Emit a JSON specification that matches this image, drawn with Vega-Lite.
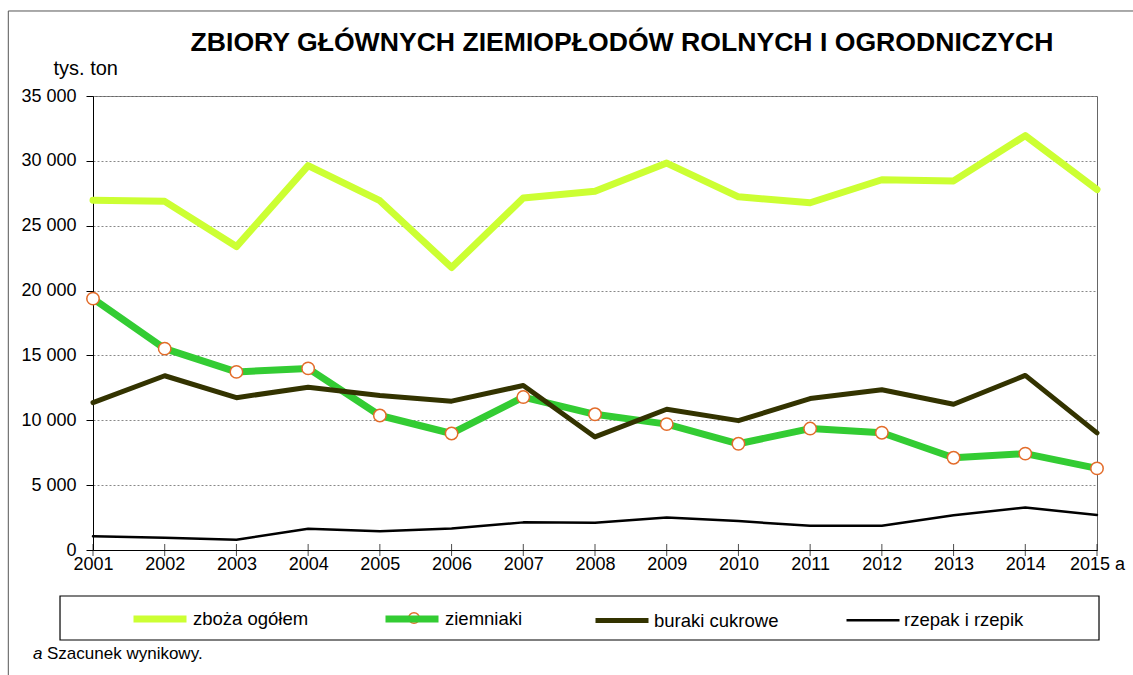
{
  "$schema": "https://vega.github.io/schema/vega-lite/v6.json",
  "autosize": "none",
  "width": 1004,
  "height": 454,
  "padding": {"left": 93, "top": 96, "right": 36, "bottom": 125},
  "background": "white",
  "title": {
    "text": "ZBIORY GŁÓWNYCH ZIEMIOPŁODÓW ROLNYCH I OGRODNICZYCH",
    "font": "Liberation Sans",
    "fontSize": 26.6,
    "fontWeight": "bold",
    "color": "black",
    "anchor": "middle",
    "frame": "group",
    "baseline": "alphabetic",
    "offset": 4,
    "dx": 27,
    "dy": 71
  },
  "data": {
    "values": [
      {"rok": 2001, "seria": "zboża ogółem", "wartosc": 26960},
      {"rok": 2002, "seria": "zboża ogółem", "wartosc": 26877},
      {"rok": 2003, "seria": "zboża ogółem", "wartosc": 23391},
      {"rok": 2004, "seria": "zboża ogółem", "wartosc": 29635},
      {"rok": 2005, "seria": "zboża ogółem", "wartosc": 26928},
      {"rok": 2006, "seria": "zboża ogółem", "wartosc": 21776},
      {"rok": 2007, "seria": "zboża ogółem", "wartosc": 27143},
      {"rok": 2008, "seria": "zboża ogółem", "wartosc": 27664},
      {"rok": 2009, "seria": "zboża ogółem", "wartosc": 29827},
      {"rok": 2010, "seria": "zboża ogółem", "wartosc": 27228},
      {"rok": 2011, "seria": "zboża ogółem", "wartosc": 26768},
      {"rok": 2012, "seria": "zboża ogółem", "wartosc": 28543},
      {"rok": 2013, "seria": "zboża ogółem", "wartosc": 28455},
      {"rok": 2014, "seria": "zboża ogółem", "wartosc": 31945},
      {"rok": 2015, "seria": "zboża ogółem", "wartosc": 27790},
      {"rok": 2001, "seria": "ziemniaki", "wartosc": 19379},
      {"rok": 2002, "seria": "ziemniaki", "wartosc": 15524},
      {"rok": 2003, "seria": "ziemniaki", "wartosc": 13731},
      {"rok": 2004, "seria": "ziemniaki", "wartosc": 13999},
      {"rok": 2005, "seria": "ziemniaki", "wartosc": 10369},
      {"rok": 2006, "seria": "ziemniaki", "wartosc": 8982},
      {"rok": 2007, "seria": "ziemniaki", "wartosc": 11791},
      {"rok": 2008, "seria": "ziemniaki", "wartosc": 10462},
      {"rok": 2009, "seria": "ziemniaki", "wartosc": 9703},
      {"rok": 2010, "seria": "ziemniaki", "wartosc": 8188},
      {"rok": 2011, "seria": "ziemniaki", "wartosc": 9362},
      {"rok": 2012, "seria": "ziemniaki", "wartosc": 9041},
      {"rok": 2013, "seria": "ziemniaki", "wartosc": 7111},
      {"rok": 2014, "seria": "ziemniaki", "wartosc": 7432},
      {"rok": 2015, "seria": "ziemniaki", "wartosc": 6290},
      {"rok": 2001, "seria": "buraki cukrowe", "wartosc": 11364},
      {"rok": 2002, "seria": "buraki cukrowe", "wartosc": 13434},
      {"rok": 2003, "seria": "buraki cukrowe", "wartosc": 11740},
      {"rok": 2004, "seria": "buraki cukrowe", "wartosc": 12550},
      {"rok": 2005, "seria": "buraki cukrowe", "wartosc": 11912},
      {"rok": 2006, "seria": "buraki cukrowe", "wartosc": 11475},
      {"rok": 2007, "seria": "buraki cukrowe", "wartosc": 12682},
      {"rok": 2008, "seria": "buraki cukrowe", "wartosc": 8715},
      {"rok": 2009, "seria": "buraki cukrowe", "wartosc": 10849},
      {"rok": 2010, "seria": "buraki cukrowe", "wartosc": 9973},
      {"rok": 2011, "seria": "buraki cukrowe", "wartosc": 11674},
      {"rok": 2012, "seria": "buraki cukrowe", "wartosc": 12350},
      {"rok": 2013, "seria": "buraki cukrowe", "wartosc": 11234},
      {"rok": 2014, "seria": "buraki cukrowe", "wartosc": 13460},
      {"rok": 2015, "seria": "buraki cukrowe", "wartosc": 9030},
      {"rok": 2001, "seria": "rzepak i rzepik", "wartosc": 1064},
      {"rok": 2002, "seria": "rzepak i rzepik", "wartosc": 953},
      {"rok": 2003, "seria": "rzepak i rzepik", "wartosc": 793},
      {"rok": 2004, "seria": "rzepak i rzepik", "wartosc": 1633},
      {"rok": 2005, "seria": "rzepak i rzepik", "wartosc": 1450},
      {"rok": 2006, "seria": "rzepak i rzepik", "wartosc": 1652},
      {"rok": 2007, "seria": "rzepak i rzepik", "wartosc": 2130},
      {"rok": 2008, "seria": "rzepak i rzepik", "wartosc": 2106},
      {"rok": 2009, "seria": "rzepak i rzepik", "wartosc": 2497},
      {"rok": 2010, "seria": "rzepak i rzepik", "wartosc": 2229},
      {"rok": 2011, "seria": "rzepak i rzepik", "wartosc": 1862},
      {"rok": 2012, "seria": "rzepak i rzepik", "wartosc": 1866},
      {"rok": 2013, "seria": "rzepak i rzepik", "wartosc": 2678},
      {"rok": 2014, "seria": "rzepak i rzepik", "wartosc": 3276},
      {"rok": 2015, "seria": "rzepak i rzepik", "wartosc": 2700}
    ]
  },
  "layer": [
    {
      "data": {"values": [{}]},
      "mark": {"type": "rect", "fill": null, "stroke": "#555555", "strokeWidth": 1, "clip": false},
      "encoding": {
        "x": {"datum": 1999.819, "type": "quantitative"},
        "x2": {"datum": 2016.5},
        "y": {"datum": 41554, "type": "quantitative"},
        "y2": {"datum": -12000}
      }
    },
    {
      "data": {"values": [{}]},
      "mark": {"type": "rect", "fill": null, "stroke": "black", "strokeWidth": 1.2, "clip": false},
      "encoding": {
        "x": {"datum": 2000.540, "type": "quantitative"},
        "x2": {"datum": 2015.028},
        "y": {"datum": -3546, "type": "quantitative"},
        "y2": {"datum": -6939}
      }
    },
    {
      "data": {"values": [{}]},
      "mark": {"type": "text", "text": "a", "font": "Liberation Sans", "fontSize": 17, "fontStyle": "italic", "align": "left", "baseline": "alphabetic", "color": "black", "clip": false},
      "encoding": {
        "x": {"datum": 2000.163, "type": "quantitative"},
        "y": {"datum": -8403, "type": "quantitative"}
      }
    },
    {
      "data": {"values": [{}]},
      "mark": {"type": "text", "text": "Szacunek wynikowy.", "font": "Liberation Sans", "fontSize": 17, "align": "left", "baseline": "alphabetic", "color": "black", "clip": false},
      "encoding": {
        "x": {"datum": 2000.359, "type": "quantitative"},
        "y": {"datum": -8403, "type": "quantitative"}
      }
    },
    {
      "mark": {"type": "line", "strokeJoin": "round", "strokeCap": "round"},
      "encoding": {
        "x": {
          "field": "rok", "type": "quantitative",
          "scale": {"domain": [2001, 2015], "nice": false, "zero": false},
          "axis": {
            "values": [2001, 2002, 2003, 2004, 2005, 2006, 2007, 2008, 2009, 2010, 2011, 2012, 2013, 2014, 2015],
            "labelExpr": "datum.value == 2015 ? '2015 a' : format(datum.value, 'd')",
            "ticks": false,
            "grid": false,
            "labelPadding": 5,
            "title": null,
            "domainColor": "black",
            "labelFontSize": 18,
            "labelColor": "black",
            "labelFont": "Liberation Sans",
            "labelFlush": false,
            "labelOverlap": false
          }
        },
        "y": {
          "field": "wartosc", "type": "quantitative",
          "scale": {"domain": [0, 35000], "nice": false},
          "axis": {
            "values": [0, 5000, 10000, 15000, 20000, 25000, 30000, 35000],
            "labelExpr": "replace(format(datum.value, ','), ',', ' ')",
            "title": "tys. ton",
            "titleAngle": 0,
            "titleX": -40,
            "titleY": -22,
            "titleAlign": "left",
            "titleBaseline": "alphabetic",
            "titleFontSize": 20,
            "titleFontWeight": "normal",
            "titleFont": "Liberation Sans",
            "titleColor": "black",
            "labelFontSize": 18,
            "labelFont": "Liberation Sans",
            "labelColor": "black",
            "labelPadding": 10,
            "tickSize": 7,
            "tickColor": "black",
            "domainColor": "black",
            "grid": true,
            "gridColor": "#888888",
            "gridDash": [2, 2],
            "gridWidth": 1
          }
        },
        "color": {
          "field": "seria", "type": "nominal",
          "scale": {
            "domain": ["zboża ogółem", "ziemniaki", "buraki cukrowe", "rzepak i rzepik"],
            "range": ["#CCFF33", "#33CC33", "#333300", "#000000"]
          },
          "legend": {
            "title": null,
            "orient": "none",
            "direction": "horizontal",
            "legendX": 37,
            "legendY": 493,
            "symbolType": "stroke",
            "symbolSize": 2809,
            "labelFontSize": 18.5,
            "labelFont": "Liberation Sans",
            "labelColor": "black",
            "labelOffset": 3,
            "columnPadding": 62,
            "padding": 0,
            "labelLimit": 400,
            "zindex": -1
          }
        },
        "strokeWidth": {
          "field": "seria", "type": "nominal",
          "scale": {
            "type": "ordinal",
            "domain": ["zboża ogółem", "ziemniaki", "buraki cukrowe", "rzepak i rzepik"],
            "range": [7, 7, 5, 2.5]
          },
          "legend": null
        }
      }
    },
    {
      "transform": [{"filter": "datum.seria == 'rzepak i rzepik'"}],
      "mark": {"type": "tick", "orient": "vertical", "size": 12, "thickness": 1, "color": "black"},
      "encoding": {
        "x": {"field": "rok", "type": "quantitative"},
        "y": {"datum": 0, "type": "quantitative"}
      }
    },
    {
      "transform": [{"filter": "datum.seria == 'ziemniaki'"}],
      "mark": {"type": "point", "shape": "circle", "filled": true, "fill": "white", "stroke": "#E36C2A", "strokeWidth": 1.5, "size": 154, "opacity": 1},
      "encoding": {
        "x": {"field": "rok", "type": "quantitative"},
        "y": {"field": "wartosc", "type": "quantitative"}
      }
    },
    {
      "data": {"values": [{}]},
      "mark": {"type": "point", "shape": "circle", "filled": true, "fill": "white", "stroke": "#E36C2A", "strokeWidth": 1.5, "size": 113, "opacity": 1, "clip": false},
      "encoding": {
        "x": {"datum": 2005.476, "type": "quantitative"},
        "y": {"datum": -5242, "type": "quantitative"}
      }
    }
  ],
  "config": {
    "view": {"stroke": "#666666", "strokeWidth": 1},
    "font": "Liberation Sans"
  }
}
